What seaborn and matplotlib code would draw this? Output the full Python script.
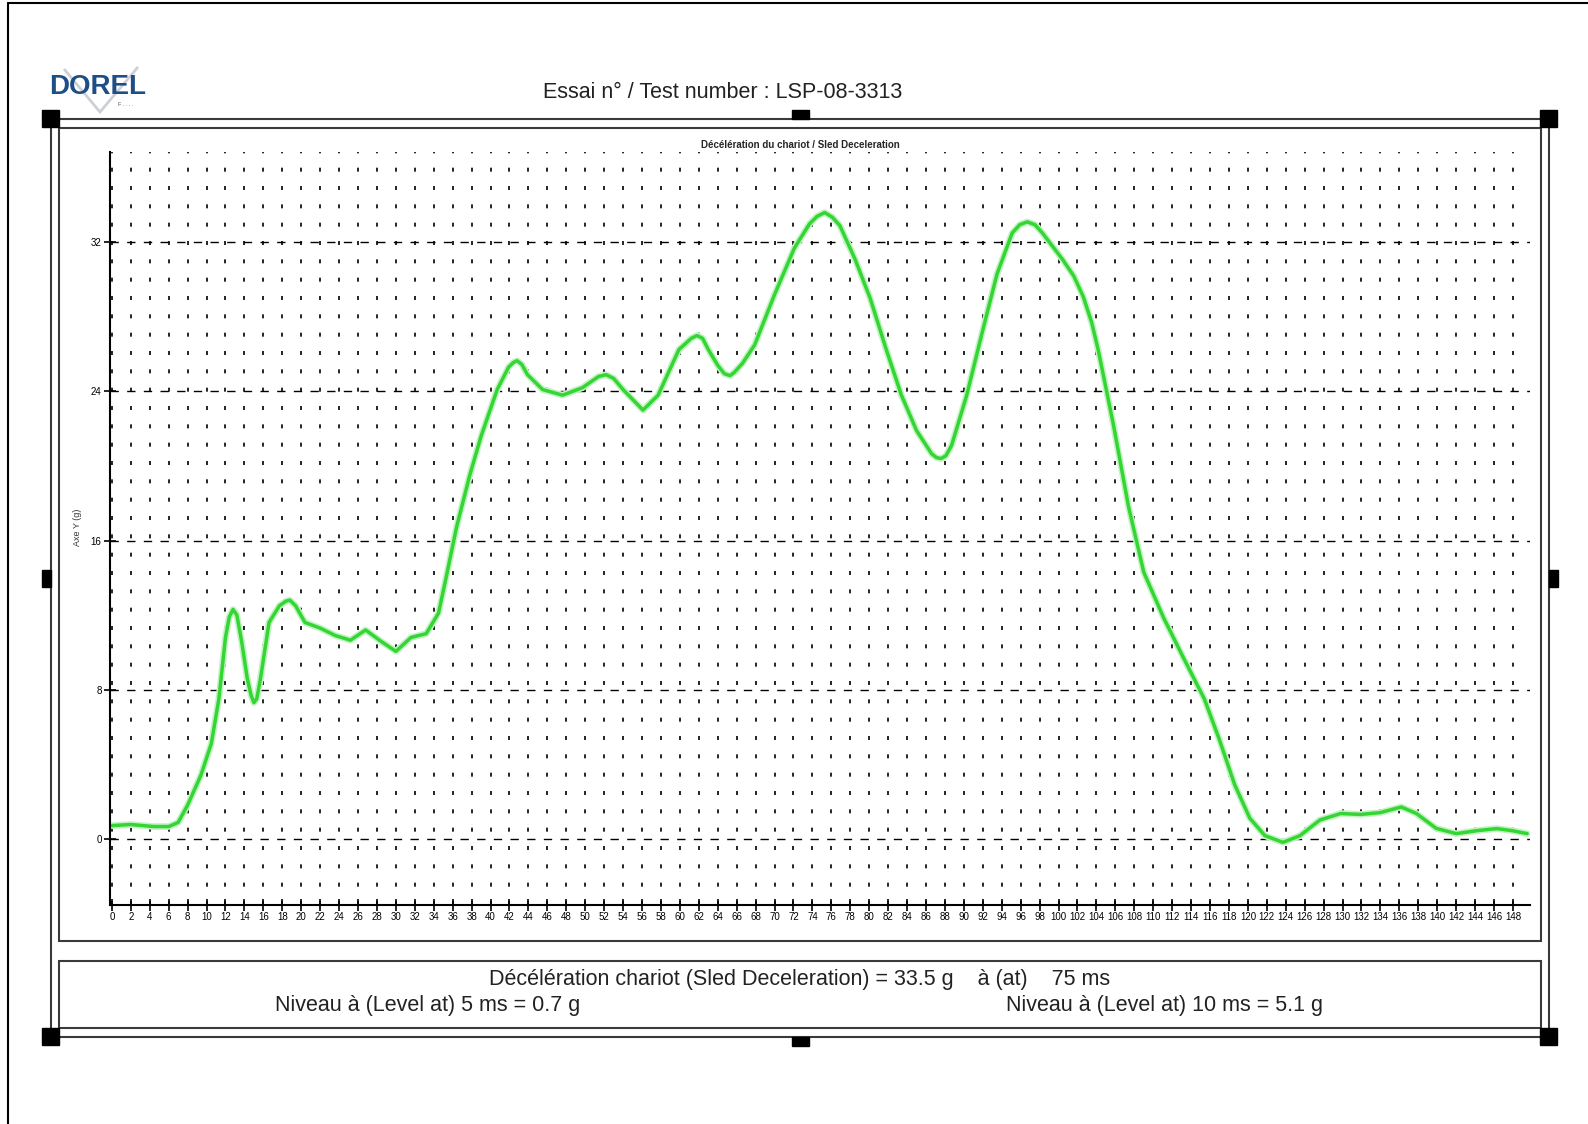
import matplotlib
matplotlib.use("Agg")
import matplotlib.pyplot as plt
import seaborn as sns
from matplotlib.patches import Rectangle, Polygon

# Sled deceleration curve
time_ms = [0, 2, 4.4, 6, 7, 8, 9.4, 10.5, 11.3, 12, 12.4, 12.8, 13.2, 13.7, 14.3,
           14.7, 15, 15.3, 15.7, 16.6, 17.7, 18.4, 18.8, 19.4, 20.4, 22, 23.6, 25.2,
           26.8, 28.4, 30, 31.6, 33.2, 34.5, 35.3, 36.4, 37.8, 39, 40.7, 41.9, 42.4,
           42.8, 43.3, 43.9, 45.5, 47.6, 49.7, 51.4, 52.2, 53, 54, 56.1, 57.7, 59.9,
           61.2, 61.8, 62.4, 63, 64, 64.7, 65.3, 65.7, 66.6, 67.9, 70, 72.1, 73.7,
           74.5, 75.3, 76.1, 76.9, 78.5, 80.1, 81.8, 83.4, 85, 86.6, 87.1, 87.6,
           88.1, 88.7, 90.3, 91.9, 93.5, 95.1, 95.9, 96.7, 97.5, 98.3, 100.4, 101.6,
           102.6, 103.5, 104.2, 105.8, 107.4, 109, 111.1, 113.2, 115.4, 117, 118.6,
           120.2, 121.8, 123.7, 125.5, 127.6, 129.8, 131.9, 134, 136.2, 137.8, 139.9,
           142, 144.2, 146.3, 147.9, 149.5]
accel_g = [0.7, 0.76, 0.65, 0.65, 0.87, 1.8, 3.4, 5.1, 7.5, 10.8, 11.9, 12.3, 12.0,
           10.6, 8.6, 7.7, 7.3, 7.5, 8.6, 11.6, 12.5, 12.75, 12.8, 12.5, 11.6, 11.3,
           10.9, 10.65, 11.2, 10.6, 10.05, 10.8, 11.0, 12.1, 14.0, 16.7, 19.5, 21.6,
           24.1, 25.3, 25.55, 25.65, 25.45, 24.9, 24.1, 23.8, 24.2, 24.8, 24.9, 24.7,
           24.1, 23.0, 23.8, 26.25, 26.85, 27.0, 26.85, 26.25, 25.4, 24.95, 24.85,
           25.0, 25.5, 26.5, 29.2, 31.7, 33.0, 33.4, 33.6, 33.35, 32.9, 31.1, 29.0,
           26.25, 23.8, 21.9, 20.65, 20.45, 20.4, 20.55, 21.1, 23.8, 27.1, 30.3, 32.5,
           32.95, 33.1, 32.95, 32.5, 31.1, 30.2, 29.1, 27.7, 26.2, 22.2, 17.8, 14.3,
           11.85, 9.7, 7.5, 5.3, 2.9, 1.1, 0.16, -0.2, 0.16, 1.0, 1.35, 1.3, 1.4,
           1.7, 1.35, 0.55, 0.27, 0.43, 0.54, 0.43, 0.27]
x_ticks = list(range(0, 149, 2))
y_ticks = [0, 8, 16, 24, 32]

title = "Essai n° / Test number : LSP-08-3313"
subtitle = "Décélération du chariot / Sled Deceleration"
summary = "Décélération chariot (Sled Deceleration) = 33.5 g    à (at)    75 ms"
level_5 = "Niveau à (Level at) 5 ms = 0.7 g"
level_10 = "Niveau à (Level at) 10 ms = 5.1 g"

sns.set_theme(style="white")
plt.rcParams['font.family'] = ['Liberation Sans', 'DejaVu Sans']

W, H = 1588, 1124
fig = plt.figure(figsize=(W / 100, H / 100), dpi=100)

# page layer in pixel coordinates
page = fig.add_axes([0, 0, 1, 1])
page.set_xlim(0, W)
page.set_ylim(H, 0)
page.axis('off')

page.plot([8, W], [2.5, 2.5], color='black', lw=1.5)
page.plot([8, 8], [2.5, H], color='black', lw=1.5)

frame = '#3a3a3a'
page.add_patch(Rectangle((51, 119), 1498, 918, fill=False, ec=frame, lw=1.5))
page.add_patch(Rectangle((59, 128), 1482, 813, fill=False, ec=frame, lw=1.5))
page.add_patch(Rectangle((59, 961), 1482, 67, fill=False, ec=frame, lw=1.5))

# selection handles
for cx, cy in [(51, 119), (1549, 119), (51, 1037), (1549, 1037)]:
    page.add_patch(Rectangle((cx - 9, cy - 9), 17, 17, color='black'))
page.add_patch(Rectangle((792, 110), 17, 9, color='black'))
page.add_patch(Rectangle((792, 1037), 17, 9, color='black'))
page.add_patch(Rectangle((42, 570), 9, 17, color='black'))
page.add_patch(Rectangle((1549, 570), 9, 17, color='black'))

# logo
page.add_patch(Polygon([(64, 69), (100, 112), (138, 67)], closed=False,
                       fill=False, ec='#cdd0d6', lw=2, zorder=1))
page.text(98, 87, "DOREL", fontsize=20, fontweight='bold', color='#1d4f86',
          ha='center', va='center', zorder=3)
page.text(118, 104, "F . . . .", fontsize=4, color='#555555', ha='left', va='center')

page.text(723, 92, title, fontsize=15.5, ha='center', va='center', color='#222222')
page.text(800, 145, subtitle, fontsize=7, fontweight='bold', ha='center', va='center')
page.text(78, 527, "Axe Y (g)", fontsize=6.5, rotation=90, ha='center', va='center',
          color='#333333')
page.text(800, 979, summary, fontsize=15.5, ha='center', va='center', color='#222222')
page.text(428, 1006, level_5, fontsize=15.5, ha='center', va='center', color='#222222')
page.text(1164, 1006, level_10, fontsize=15.5, ha='center', va='center', color='#222222')

# chart
ax = fig.add_axes([110 / W, 1 - 905 / H, 1420 / W, 753 / H])
ax.set_facecolor('none')
sns.lineplot(x=time_ms, y=accel_g, ax=ax, color='#c4f2c4', lw=4.8, sort=False,
             solid_joinstyle='round')
sns.lineplot(x=time_ms, y=accel_g, ax=ax, color='#33d633', lw=2.5, sort=False,
             solid_joinstyle='round')

ax.set_xlim(-0.2, 149.8)
ax.set_ylim(-3.56, 36.85)
ax.set_xticks(x_ticks)
ax.set_xticklabels([str(t) for t in x_ticks])
ax.set_yticks(y_ticks)
ax.set_yticklabels([str(t) for t in y_ticks])

ax.xaxis.grid(True, color='black', lw=1.2, linestyle=(0, (2.4, 8.6)))
ax.yaxis.grid(True, color='black', lw=1.0, linestyle=(0, (6, 6)))
ax.set_axisbelow(True)

for side in ['top', 'right']:
    ax.spines[side].set_visible(False)
for side in ['left', 'bottom']:
    ax.spines[side].set_color('black')
    ax.spines[side].set_linewidth(1.5)

ax.tick_params(axis='x', bottom=True, direction='inout', length=8, width=1.2,
               labelsize=7, pad=1, colors='black')
ax.tick_params(axis='y', left=True, direction='inout', length=8, width=1.2,
               labelsize=7, pad=2, colors='black')
ax.set_xlabel("")
ax.set_ylabel("")

fig.savefig("out.png", dpi=100)
